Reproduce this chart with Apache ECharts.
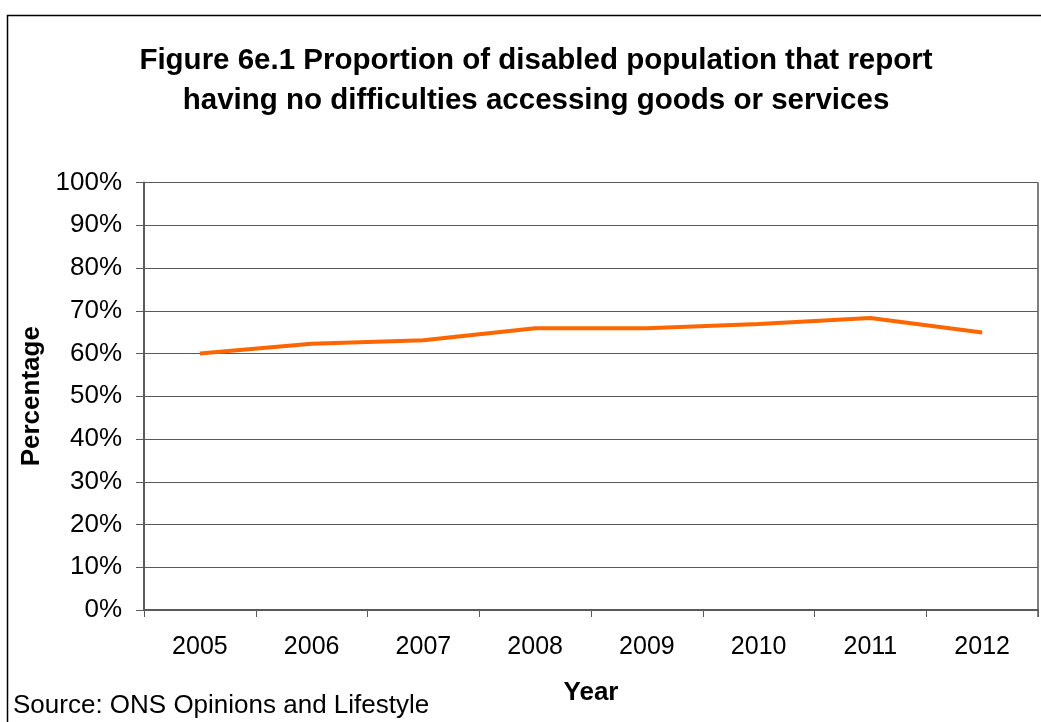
<!DOCTYPE html>
<html>
<head>
<meta charset="utf-8">
<title>Figure 6e.1</title>
<script src="https://cdn.jsdelivr.net/npm/echarts@6/dist/echarts.min.js"></script>
<style>
  html, body { margin: 0; padding: 0; background: #fff; }
  #chart { width: 1041px; height: 722px; }
</style>
</head>
<body>
<div id="chart"></div>
<script>
// Survey years shown on the category axis
const years = ['2005', '2006', '2007', '2008', '2009', '2010', '2011', '2012'];
// Share of disabled people reporting no difficulties accessing goods or services (%)
const noDifficultyPct = [60.0, 62.3, 63.1, 65.9, 65.9, 66.9, 68.3, 64.9];
// Value axis range and step (%)
const yMin = 0;
const yMax = 100;
const yStep = 10;

const titleText = 'Figure 6e.1 Proportion of disabled population that report\nhaving no difficulties accessing goods or services';
const sourceText = 'Source: ONS Opinions and Lifestyle';

const FONT = '"Liberation Sans", Arial, sans-serif';
const axisGrey = '#5a5a5a';

const chart = echarts.init(document.getElementById('chart'), null, { renderer: 'canvas' });

chart.setOption({
  backgroundColor: '#ffffff',
  animation: false,
  title: {
    text: titleText,
    left: 531,
    top: 36,
    textAlign: 'center',
    textStyle: {
      fontFamily: FONT,
      fontWeight: 'bold',
      fontSize: 29.5,
      lineHeight: 40,
      color: '#000'
    }
  },
  grid: {
    left: 144,
    right: 3,
    top: 182.5,
    bottom: 112,
    containLabel: false,
    show: false
  },
  xAxis: {
    type: 'category',
    data: years,
    boundaryGap: true,
    name: 'Year',
    nameLocation: 'middle',
    nameGap: 70,
    nameTextStyle: {
      fontFamily: FONT,
      fontWeight: 'bold',
      fontSize: 26,
      color: '#000'
    },
    axisLine: { show: true, lineStyle: { color: axisGrey, width: 2 } },
    axisTick: {
      show: true,
      alignWithLabel: false,
      inside: false,
      length: 7,
      lineStyle: { color: axisGrey, width: 1 }
    },
    axisLabel: {
      margin: 25,
      fontFamily: FONT,
      fontSize: 25,
      color: '#000'
    },
    splitLine: { show: false }
  },
  yAxis: {
    type: 'value',
    min: yMin,
    max: yMax,
    interval: yStep,
    name: 'Percentage',
    nameLocation: 'middle',
    nameGap: 98,
    nameRotate: 90,
    nameTextStyle: {
      fontFamily: FONT,
      fontWeight: 'bold',
      fontSize: 26,
      color: '#000'
    },
    axisLine: { show: true, lineStyle: { color: axisGrey, width: 2 } },
    axisTick: {
      show: true,
      inside: false,
      length: 8,
      lineStyle: { color: axisGrey, width: 1 }
    },
    axisLabel: {
      margin: 22,
      fontFamily: FONT,
      fontSize: 26,
      color: '#000',
      formatter: '{value}%'
    },
    splitLine: { show: true, lineStyle: { color: axisGrey, width: 1.2 } }
  },
  graphic: [
    {
      // outer chart frame (right and bottom edges run past the canvas)
      type: 'rect',
      shape: { x: 7.5, y: 15.5, width: 1060, height: 740 },
      style: { fill: 'none', stroke: '#000', lineWidth: 1.5 },
      silent: true,
      z: 0
    },
    {
      // right edge of the plot area
      type: 'line',
      shape: { x1: 1038, y1: 182.5, x2: 1038, y2: 617 },
      style: { stroke: '#808080', lineWidth: 2 },
      silent: true
    },
    {
      type: 'text',
      left: 13,
      top: 693,
      style: {
        text: sourceText,
        fontFamily: FONT,
        fontSize: 26,
        fill: '#000'
      },
      silent: true
    }
  ],
  series: [
    {
      name: 'No difficulties',
      type: 'line',
      data: noDifficultyPct,
      showSymbol: false,
      symbol: 'none',
      lineStyle: { color: '#FF6600', width: 4 },
      itemStyle: { color: '#FF6600' },
      z: 5
    }
  ]
});
</script>
</body>
</html>
